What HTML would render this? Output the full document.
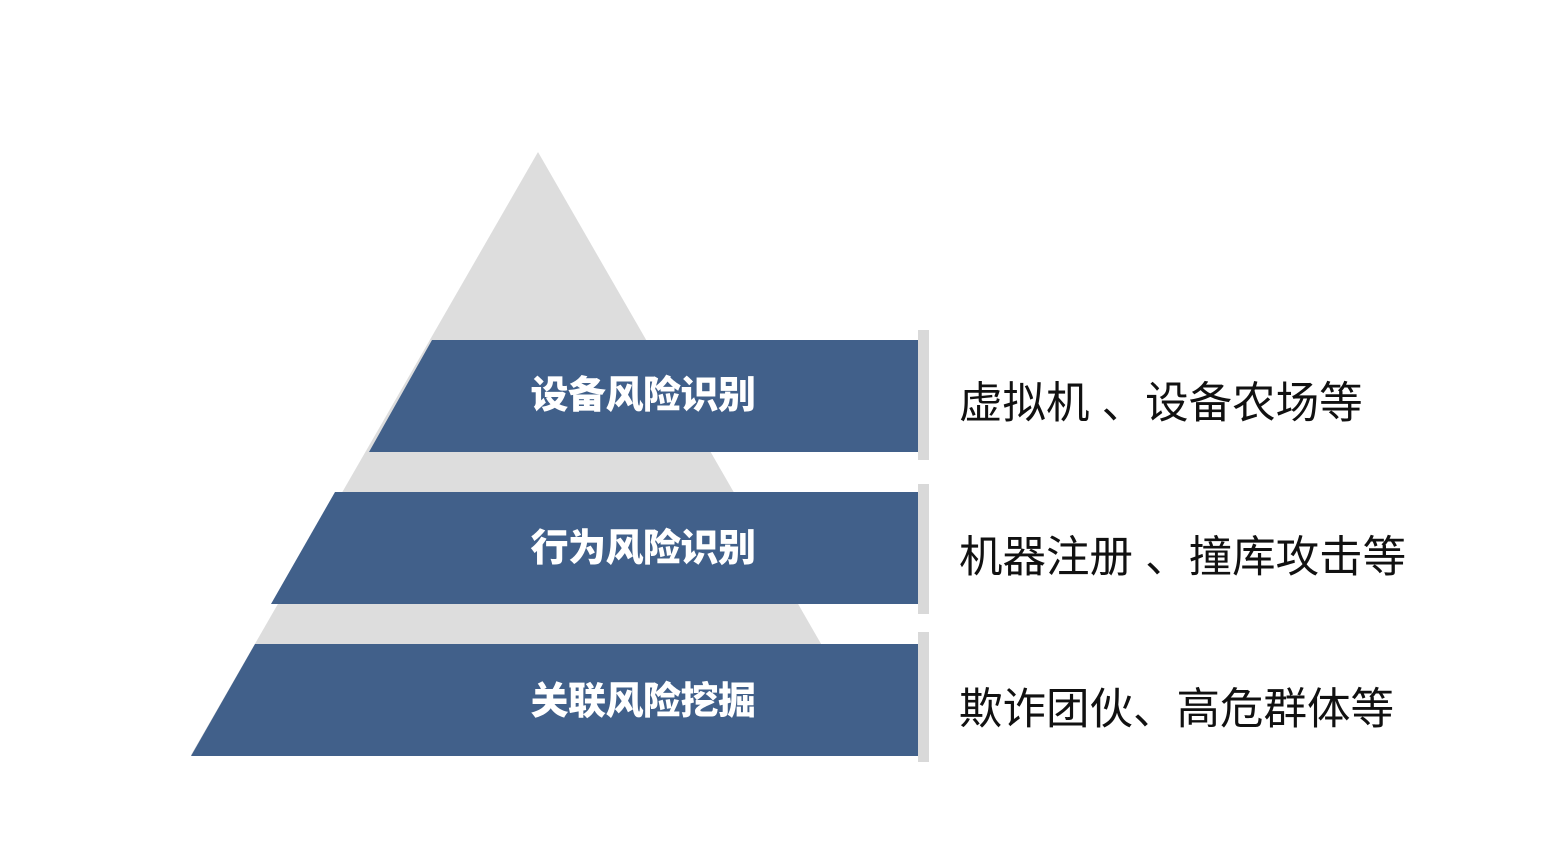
<!DOCTYPE html>
<html><head><meta charset="utf-8"><style>
body{margin:0;background:#fff;width:1558px;height:862px;overflow:hidden;position:relative;font-family:"Liberation Sans","Noto Sans CJK SC",sans-serif}
.t{position:absolute;color:#fff;font-weight:900;font-size:38px;width:400px;text-align:center;left:443px;line-height:40px;letter-spacing:-0.5px}
.r{position:absolute;color:#111;font-size:43.5px;left:959px;line-height:50px;white-space:pre}
</style></head><body>
<svg width="1558" height="862" style="position:absolute;left:0;top:0">
<polygon points="538,152 885,755 191,755" fill="#dddddd"/>
<polygon points="432,340 919,340 919,452 369,452" fill="#41608a"/>
<polygon points="335,492 919,492 919,604 271,604" fill="#41608a"/>
<polygon points="255,644 919,644 919,756 191,756" fill="#41608a"/>
<rect x="918" y="330" width="11" height="130" fill="#d9d9d9"/>
<rect x="918" y="484" width="11" height="130" fill="#d9d9d9"/>
<rect x="918" y="632" width="11" height="130" fill="#d9d9d9"/>
</svg>
<div class="t" style="top:376px">设备风险识别</div>
<div class="t" style="top:529px">行为风险识别</div>
<div class="t" style="top:682px">关联风险挖掘</div>
<div class="r" style="top:379px">虚拟机 、设备农场等</div>
<div class="r" style="top:533px">机器注册 、撞库攻击等</div>
<div class="r" style="top:685px">欺诈团伙、高危群体等</div>
</body></html>
